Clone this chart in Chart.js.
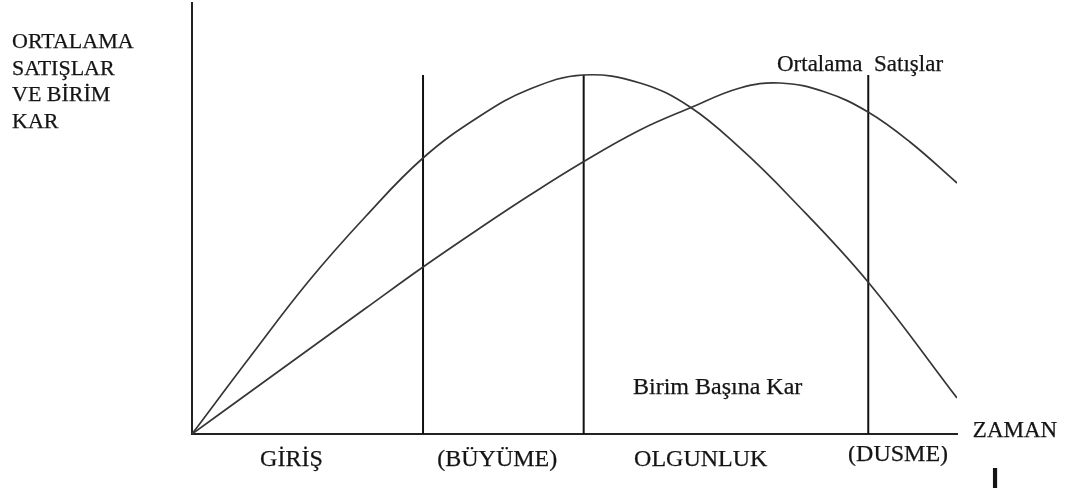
<!DOCTYPE html>
<html><head><meta charset="utf-8">
<script src="https://cdn.jsdelivr.net/npm/chart.js@4"></script>
<style>html,body{margin:0;padding:0;background:#fff;overflow:hidden}canvas{display:block}</style>
</head><body><canvas id="c" width="1069" height="498"></canvas>
<script>
// Time axis runs 0..100, value axis 0..100 (arbitrary units)
const profitX = [0, 7.58, 15.16, 22.75, 30.20, 37.65, 44.18, 51.11, 58.56, 65.10, 71.63, 78.17, 88.37, 100];
const profitY = [0, 17.87, 35.27, 50.58, 64.04, 73.78, 80.05, 83.29, 81.44, 75.87, 66.36, 54.99, 35.27, 8.35];
const salesX = [0, 7.58, 15.16, 22.75, 30.20, 37.65, 44.18, 51.11, 58.56, 65.10, 71.63, 76.86, 82.75, 88.37, 93.86, 100];
const salesY = [0, 9.74, 19.49, 29.23, 38.75, 47.80, 55.45, 63.11, 70.53, 75.64, 80.28, 81.44, 79.35, 74.71, 67.75, 58.24];
const phaseX = [30.2, 51.2, 88.4];
const phaseTop = 83.3;
const phaseLabels = ['GİRİŞ', '(BÜYÜME)', 'OLGUNLUK', '(DUSME)'];
const phaseLabelX = [13.0, 39.9, 66.5, 92.3];
const yAxisTitle = ['ORTALAMA', 'SATIŞLAR', 'VE BİRİM', 'KAR'];
const xAxisTitle = 'ZAMAN';
const salesLabel = 'Ortalama  Satışlar';
const profitLabel = 'Birim Başına Kar';

const zip = (xs, ys) => xs.map((x, i) => ({x, y: ys[i]}));
const datasets = [
  {label: profitLabel, data: zip(profitX, profitY), borderColor: '#363636', borderWidth: 1.7, pointRadius: 0, tension: 0.4, fill: false},
  {label: salesLabel, data: zip(salesX, salesY), borderColor: '#363636', borderWidth: 1.7, pointRadius: 0, tension: 0.4, fill: false}
];
phaseX.forEach(px => datasets.push({label: 'phase', data: [{x: px, y: 0}, {x: px, y: phaseTop}], borderColor: '#111', borderWidth: 2, pointRadius: 0, tension: 0}));

const SERIF = '"Liberation Serif", "Times New Roman", serif';
const textPlugin = {
  id: 'texts',
  afterDraw(chart) {
    const ctx = chart.ctx, xs = chart.scales.x;
    ctx.save();
    ctx.fillStyle = '#141414';
    ctx.strokeStyle = '#141414';
    ctx.lineWidth = 0.25;
    ctx.textBaseline = 'alphabetic';
    const put = (t, x, y) => { ctx.fillText(t, x, y); ctx.strokeText(t, x, y); };
    ctx.font = '22px ' + SERIF;
    ctx.textAlign = 'left';
    yAxisTitle.forEach((t, i) => put(t, 12, 48 + i * 26.7));
    ctx.font = '23px ' + SERIF;
    put(salesLabel, 777, 71);
    ctx.font = '24px ' + SERIF;
    put(profitLabel, 633, 394);
    ctx.textAlign = 'center';
    phaseLabels.forEach((t, i) => {
      const x = xs.getPixelForValue(phaseLabelX[i]);
      if (i === 3) {
        ctx.save();
        ctx.beginPath(); ctx.rect(x - 80, 446, 160, 40); ctx.clip();
        put(t, x, 461);
        ctx.restore();
      } else {
        put(t, x, 466);
      }
    });
    ctx.font = '23px ' + SERIF;
    put(xAxisTitle, 1015, 437);
    ctx.font = 'bold 29px "Liberation Sans", Arial, sans-serif';
    ctx.fillText('I', 995, 488);
    ctx.restore();
  }
};

new Chart(document.getElementById('c'), {
  type: 'line',
  data: {datasets},
  options: {
    responsive: false,
    animation: false,
    layout: {padding: {left: 192, right: 112, top: 3, bottom: 64}},
    plugins: {legend: {display: false}, tooltip: {enabled: false}},
    scales: {
      x: {type: 'linear', min: 0, max: 100, grid: {display: false}, ticks: {display: false},
          border: {display: true, color: '#222', width: 2}, afterFit: s => { s.height = 0; }},
      y: {type: 'linear', min: 0, max: 100, grid: {display: false}, ticks: {display: false},
          border: {display: true, color: '#222', width: 2}, afterFit: s => { s.width = 0; }}
    }
  },
  plugins: [textPlugin]
});
</script>
</body></html>
